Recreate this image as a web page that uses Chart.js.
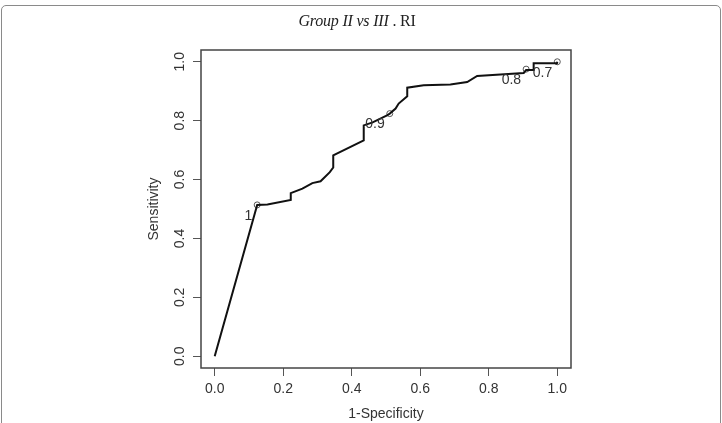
<!DOCTYPE html>
<html>
<head>
<meta charset="utf-8">
<script src="https://cdn.jsdelivr.net/npm/chart.js@4"></script>
<style>
  body { margin: 0; background: #fff; }
  #wrap { position: relative; width: 722px; height: 423px; overflow: hidden; }
  #frame { position: absolute; left: 1px; top: 5px; width: 718px; height: 440px;
           border: 1.5px solid #8a8a8a; border-radius: 5px; }
  #title { position: absolute; top: 12px; left: -4px; width: 722px; text-align: center;
           font-family: "Liberation Serif", serif; font-size: 16px; color: #222; letter-spacing: -0.2px; }
  #title i { font-style: italic; }
  canvas { position: absolute; left: 0; top: 0; }
</style>
</head>
<body>
<div id="wrap">
  <div id="frame"></div>
  <canvas id="roc" width="722" height="423"></canvas>
  <div id="title"><i>Group II vs III</i> . RI</div>
</div>
<script>
// ROC curve
var fpr = [0, 0.124, 0.154, 0.222, 0.222, 0.256, 0.285, 0.309, 0.336, 0.346, 0.346, 0.435, 0.435, 0.461, 0.503, 0.511, 0.528, 0.537, 0.562, 0.562, 0.610, 0.688, 0.737, 0.766, 0.834, 0.902, 0.909, 0.931, 0.931, 0.999, 1.0];
var tpr = [0, 0.514, 0.515, 0.531, 0.554, 0.569, 0.588, 0.594, 0.625, 0.641, 0.682, 0.733, 0.784, 0.794, 0.818, 0.824, 0.841, 0.858, 0.883, 0.912, 0.920, 0.923, 0.931, 0.952, 0.957, 0.962, 0.972, 0.972, 0.995, 0.995, 1.0];

// thresholds printed on the curve
var thrX = [0.124, 0.511, 0.909, 1.0];
var thrY = [0.514, 0.824, 0.975, 1.0];
var thrLabels = ["1", "0.9", "0.8", "0.7"];

var xTicks = [0, 0.2, 0.4, 0.6, 0.8, 1.0];
var yTicks = [0, 0.2, 0.4, 0.6, 0.8, 1.0];

var txtColor = "#333";
var axisFont = { family: "'Liberation Sans', Arial, sans-serif", size: 14 };

var boxAndLabels = {
  id: "boxAndLabels",
  afterDatasetsDraw: function(chart) {
    var ctx = chart.ctx, a = chart.chartArea;
    var xs = chart.scales.x, ys = chart.scales.y;
    ctx.save();
    ctx.strokeStyle = "#444";
    ctx.lineWidth = 1.5;
    ctx.strokeRect(a.left, a.top, a.right - a.left, a.bottom - a.top);
    ctx.fillStyle = txtColor;
    ctx.font = "14px 'Liberation Sans', Arial, sans-serif";
    ctx.textAlign = "right";
    ctx.textBaseline = "top";
    for (var i = 0; i < thrLabels.length; i++) {
      var px = xs.getPixelForValue(thrX[i]);
      var py = ys.getPixelForValue(thrY[i]);
      ctx.fillText(thrLabels[i], px - 5, py + 4);
    }
    ctx.restore();
  }
};

var config = {
  type: "scatter",
  data: {
    datasets: [{
      data: fpr.map(function(v, i) { return { x: v, y: tpr[i] }; }),
      showLine: true,
      borderColor: "#111",
      borderWidth: 2,
      pointRadius: 0,
      tension: 0
    }, {
      data: thrX.map(function(v, i) { return { x: v, y: thrY[i] }; }),
      pointRadius: 3,
      pointBorderColor: "#555",
      pointBorderWidth: 1,
      pointBackgroundColor: "rgba(255,255,255,0)"
    }]
  },
  options: {
    responsive: false,
    animation: false,
    layout: { padding: { left: 146, right: 151, top: 50, bottom: 0 } },
    plugins: { legend: { display: false }, tooltip: { enabled: false } },
    scales: {
      x: {
        min: -0.04, max: 1.04,
        afterBuildTicks: function(s) { s.ticks = xTicks.map(function(v) { return { value: v }; }); },
        afterFit: function(s) { s.height = 55; },
        ticks: { font: axisFont, color: txtColor, padding: 5,
                 callback: function(v) { return Number(v).toFixed(1); } },
        grid: { drawOnChartArea: false, drawTicks: true, tickLength: 8, color: "#555" },
        border: { display: false },
        title: { display: true, text: "1-Specificity", font: axisFont, color: txtColor, padding: 0 }
      },
      y: {
        min: -0.04, max: 1.04,
        afterBuildTicks: function(s) { s.ticks = yTicks.map(function(v) { return { value: v }; }); },
        afterFit: function(s) { s.width = 55; },
        ticks: { font: axisFont, color: txtColor, padding: 3, minRotation: 90, maxRotation: 90,
                 crossAlign: "center",
                 callback: function(v) { return Number(v).toFixed(1); } },
        grid: { drawOnChartArea: false, drawTicks: true, tickLength: 8, color: "#555" },
        border: { display: false },
        title: { display: true, text: "Sensitivity", font: axisFont, color: txtColor, padding: 0 }
      }
    }
  },
  plugins: [boxAndLabels]
};

window.onload = function() {
  var ctx = document.getElementById("roc").getContext("2d");
  window.rocChart = new Chart(ctx, config);
};
</script>
</body>
</html>
